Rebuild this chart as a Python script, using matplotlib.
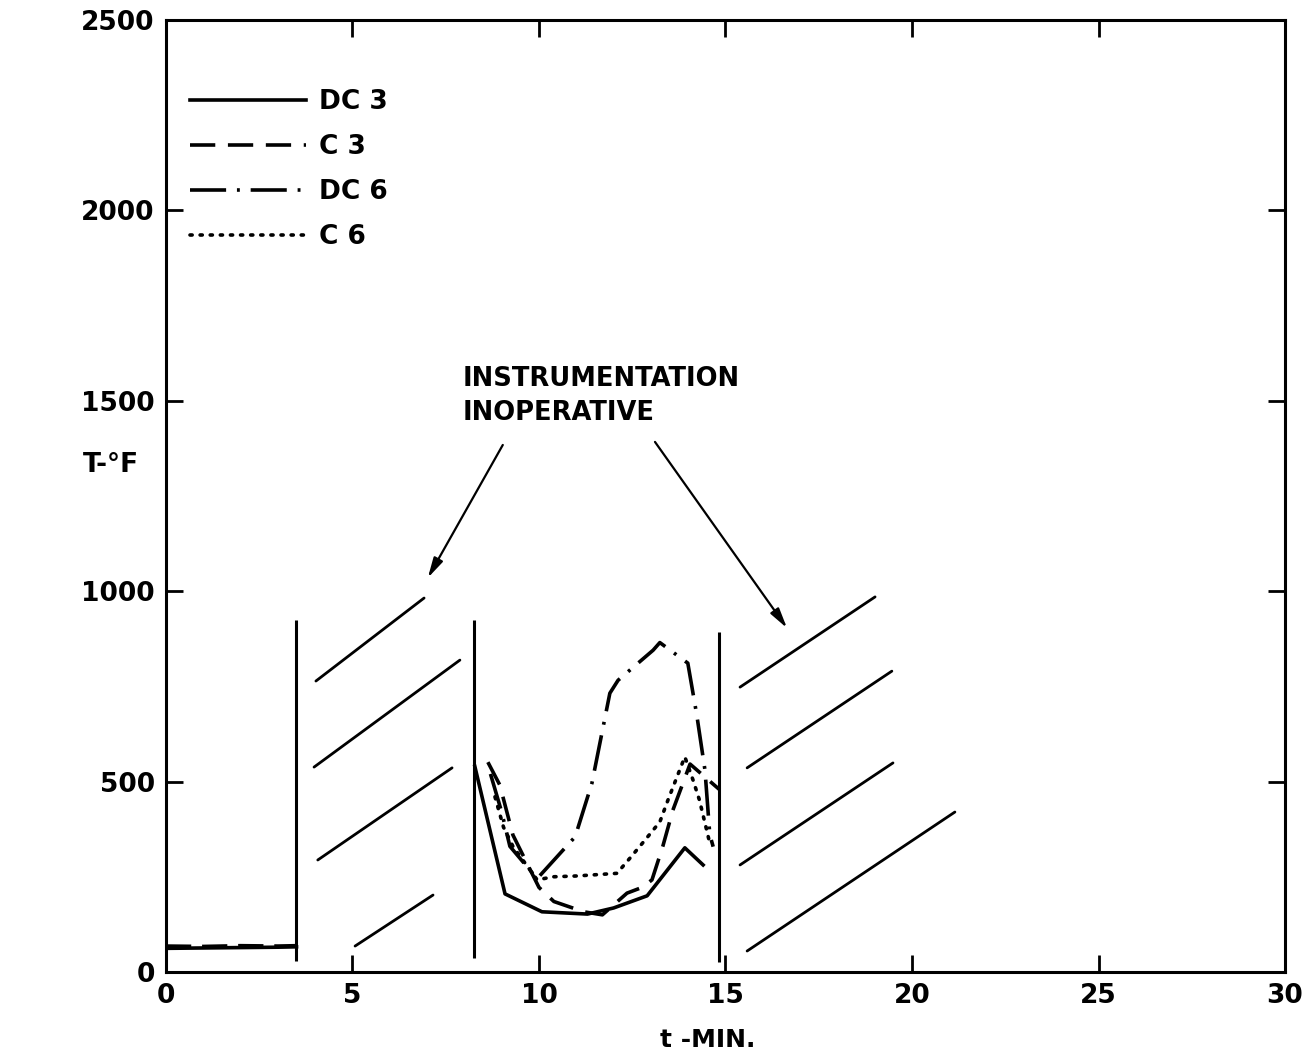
import numpy as np
import matplotlib
matplotlib.use("Agg")
import matplotlib.pyplot as plt

# thermocouple readings, time in minutes, temperature in deg F
pre_t = [0.0, 1.0, 2.0, 3.0, 3.5]
pre_dc3 = [62, 63, 64, 65, 66]
pre_c3 = [68, 67, 69, 68, 69]

dc3_t = [8.28, 9.09, 10.08, 11.3, 12.0, 12.9, 13.91, 14.4]
dc3_T = [540, 205, 158, 152, 168, 200, 326, 281]

c3_t = [8.63, 8.95, 9.3, 10.0, 10.4, 11.2, 11.7, 12.36, 12.79, 13.03, 13.32, 13.59, 14.05, 14.85]
c3_T = [551, 491, 360, 222, 185, 158, 150, 207, 223, 242, 330, 425, 546, 478]

dc6_t = [8.7, 9.0, 9.22, 9.95, 10.97, 11.42, 11.9, 12.12, 13.06, 13.24, 13.99, 14.23, 14.45, 14.58, 14.67]
dc6_T = [520, 420, 330, 245, 355, 496, 732, 766, 845, 865, 811, 675, 530, 360, 329]

c6_t = [8.82, 9.05, 9.3, 9.95, 10.4, 11.0, 12.09, 12.44, 12.84, 13.24, 13.46, 13.91, 14.13, 14.3, 14.45, 14.55]
c6_T = [460, 380, 330, 242, 250, 252, 259, 299, 346, 394, 452, 565, 504, 452, 391, 350]

# instrument dropout markers
gap_t = [3.49, 8.25, 14.83]
gap_lo = [30, 37, 26]
gap_hi = [924, 924, 893]

# hatch strokes over the dead intervals: (t0, T0, t1, T1)
hatch = [
    (4.02, 764, 6.92, 982),
    (3.97, 538, 7.88, 819),
    (4.07, 294, 7.67, 536),
    (5.07, 68, 7.16, 202),
    (15.39, 748, 19.01, 985),
    (15.58, 536, 19.46, 790),
    (15.39, 281, 19.49, 549),
    (15.58, 55, 21.15, 420),
]

x_ticks = [0, 5, 10, 15, 20, 25, 30]
y_ticks = [0, 500, 1000, 1500, 2000, 2500]
y_ticklabels = ["0", "500", "1000", "1500", "2000", "2500"]

fig = plt.figure(figsize=(13.15, 10.59), dpi=100)
ax = fig.add_axes([0.1262, 0.0822, 0.851, 0.8989])

lw = 2.6
ax.plot(pre_t, pre_dc3, color="black", lw=lw)
ax.plot(pre_t, pre_c3, color="black", lw=lw, dashes=(7, 3))

ax.plot(dc3_t, dc3_T, color="black", lw=lw, label="DC 3")
ax.plot(c3_t, c3_T, color="black", lw=lw, dashes=(7, 3.5), label="C 3")
ax.plot(dc6_t, dc6_T, color="black", lw=lw, dashes=(10, 3, 0.8, 3), label="DC 6")
ax.plot(c6_t, c6_T, color="black", lw=lw, dashes=(0.6, 2.2),
        dash_capstyle="round", label="C 6")

ax.vlines(gap_t, gap_lo, gap_hi, color="black", lw=2.2)
for t0, T0, t1, T1 in hatch:
    ax.plot([t0, t1], [T0, T1], color="black", lw=2.0, solid_capstyle="round")

ax.text(7.94, 1512, "INSTRUMENTATION\nINOPERATIVE", fontsize=18.5,
        fontweight="bold", family="DejaVu Sans", va="center", ha="left",
        linespacing=1.4)
arrow = dict(arrowstyle="-|>,head_length=1.2,head_width=0.3", color="black",
             lw=1.6, shrinkA=0, shrinkB=0)
ax.annotate("", xy=(7.02, 1035), xytext=(9.03, 1384), arrowprops=arrow)
ax.annotate("", xy=(16.65, 903), xytext=(13.11, 1392), arrowprops=arrow)

ax.set_xlim(0, 30)
ax.set_ylim(0, 2500)
ax.set_xticks(x_ticks)
ax.set_yticks(y_ticks)
ax.set_yticklabels(y_ticklabels)
ax.tick_params(direction="in", length=12, width=2, top=True, right=True,
               labelsize=19, pad=8)
for lab in ax.get_xticklabels() + ax.get_yticklabels():
    lab.set_fontweight("bold")
for sp in ax.spines.values():
    sp.set_linewidth(2.2)

leg = ax.legend(loc="upper left", bbox_to_anchor=(0.0, 0.952), frameon=False,
                handlelength=4.4, handletextpad=0.5, labelspacing=0.72,
                prop={"size": 19, "weight": "bold"})

fig.text(0.084, 0.561, "T-°F", fontsize=19, fontweight="bold", ha="center", va="center")
fig.text(0.538, 0.018, "t -MIN.", fontsize=18, fontweight="bold", ha="center", va="center")

plt.savefig("out.png", dpi=100)
